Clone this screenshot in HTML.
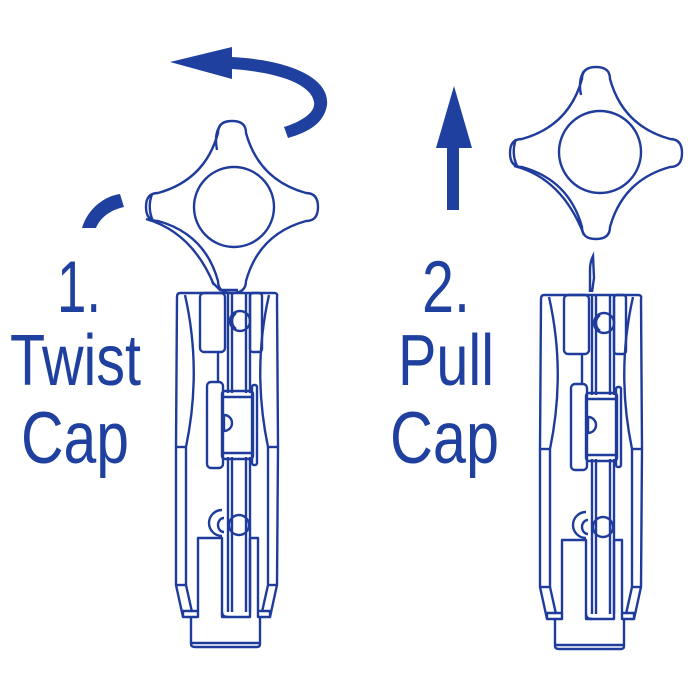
<!DOCTYPE html>
<html><head><meta charset="utf-8"><style>
html,body{margin:0;padding:0;background:#fff;}
svg{display:block;}
text{font-family:"Liberation Sans",sans-serif;fill:#1f409e;}
</style></head><body>
<svg width="690" height="700" viewBox="0 0 690 700" xmlns="http://www.w3.org/2000/svg">
<defs>
<path id="cap" d="M -14,-74 Q -14,-86 0,-86 Q 14,-86 14,-74 Q 27,-27 74,-14 Q 86,-14 86,0 Q 86,14 74,14 Q 27,27 14,74 Q 14,86 0,86 Q -14,86 -14,74 Q -27,27 -74,14 Q -86,14 -86,0 Q -86,-14 -74,-14 Q -27,-27 -14,-74 Z"/>
<g id="body" fill="none" stroke="#1f3c9c" stroke-width="2.4" stroke-linejoin="round">
  <path d="M180,293 L274,293 Q278,293 277,297 L278,447 L277,585 L270,617 L258,617 L258,538 L250,538 L250,617 L222,617 L222,538 L198,538 L198,617 L183,617 L176,585 L176,447 L177,297 Q177,293 180,293 Z"/>
  <path d="M191,617 L191,644 Q191,647 195,647 L257,647 Q260,647 260,644 L260,617"/>
  <line x1="192" y1="643" x2="259" y2="643"/>
  <path d="M185,295 Q202,370 186,447 L186,585 L192,612"/>
  <path d="M269,295 Q252,370 268,447 L268,585 L262,612"/>
  <line x1="176" y1="447" x2="186" y2="447"/>
  <line x1="268" y1="447" x2="278" y2="447"/>
  <line x1="176" y1="585" x2="186" y2="585"/>
  <line x1="268" y1="585" x2="278" y2="585"/>
  <path d="M183,617 L183,611 L198,611"/>
  <path d="M270,617 L270,611 L258,611"/>
  <rect x="200" y="293" width="25" height="59" rx="4"/>
  <rect x="250" y="293" width="12" height="59" rx="3"/>
  <line x1="218" y1="352" x2="218" y2="382"/>
  <line x1="228" y1="293" x2="228" y2="393"/>
  <line x1="232" y1="293" x2="232" y2="393"/>
  <line x1="246" y1="293" x2="246" y2="393"/>
  <line x1="250" y1="293" x2="250" y2="393"/>
  <line x1="228" y1="457" x2="228" y2="612"/>
  <line x1="232" y1="457" x2="232" y2="612"/>
  <line x1="246" y1="457" x2="246" y2="612"/>
  <line x1="250" y1="457" x2="250" y2="612"/>
  <path d="M222,612 Q222,617 228,617"/>
  <rect x="207" y="382" width="16" height="86" rx="4"/>
  <rect x="222" y="391" width="31" height="68" rx="3"/>
  <line x1="222" y1="397" x2="253" y2="397"/>
  <line x1="222" y1="453" x2="253" y2="453"/>
  <rect x="252" y="385" width="5" height="80" rx="2"/>
  <path d="M224,415 A8,8 0 0 1 224,431 Z"/>
  <circle cx="240" cy="321" r="10"/>
  <path d="M236,313 A10,10 0 0 0 236,329"/>
  <circle cx="239" cy="525" r="10"/>
  <path d="M222,536 A13,13 0 0 1 222,510"/>
  <path d="M224,518 A6,7 0 0 0 224,532"/>
</g>
</defs>

<path d="M170,62 L232,47 L232,57 C290,60 330,78 327,105 C324,125 305,133 288,138 L284,127 C300,122 316,113 314,102 C311,83 275,72 232,69 L232,79 Z" fill="#1f409e"/>
<path d="M82,228 C88,208 105,196 120,194 L124,207 C110,210 100,218 96,228 Z" fill="#1f409e"/>

<path d="M454,86 L472,148 L459,148 L459,210 L447,210 L447,148 L436,148 Z" fill="#1f409e"/>

<g fill="none" stroke="#1f3c9c" stroke-width="2.4">
  <use href="#cap" transform="translate(232,207)"/>
  <circle cx="234" cy="207" r="40"/>
  <path d="M152,194 Q147,208 153,221"/>
  <path d="M220,126 Q214,134 217,150"/>
  <path d="M146,219 Q192,232 214,285"/>
  <use href="#cap" transform="translate(596,153)"/>
  <circle cx="600" cy="152" r="41"/>
  <path d="M516,139 Q511,153 517,166"/>
  <path d="M584,71 Q578,80 581,95"/>
  <path d="M514,166 Q562,178 584,235"/>
  <path d="M212,282 L220,290 L238,290"/>
  <path d="M590,292 L590,270 Q590,262 593,256 L594,278 L592,292"/>
</g>

<use href="#body"/>
<use href="#body" transform="translate(364,2)"/>

<text x="57" y="312" font-size="73" textLength="44" lengthAdjust="spacingAndGlyphs">1.</text>
<text x="10" y="385" font-size="72" textLength="131" lengthAdjust="spacingAndGlyphs">Twist</text>
<text x="21" y="463" font-size="73" textLength="108" lengthAdjust="spacingAndGlyphs">Cap</text>
<text x="422" y="312" font-size="73" textLength="48" lengthAdjust="spacingAndGlyphs">2.</text>
<text x="398" y="385" font-size="72" textLength="96" lengthAdjust="spacingAndGlyphs">Pull</text>
<text x="390" y="463" font-size="73" textLength="109" lengthAdjust="spacingAndGlyphs">Cap</text>
</svg>
</body></html>
